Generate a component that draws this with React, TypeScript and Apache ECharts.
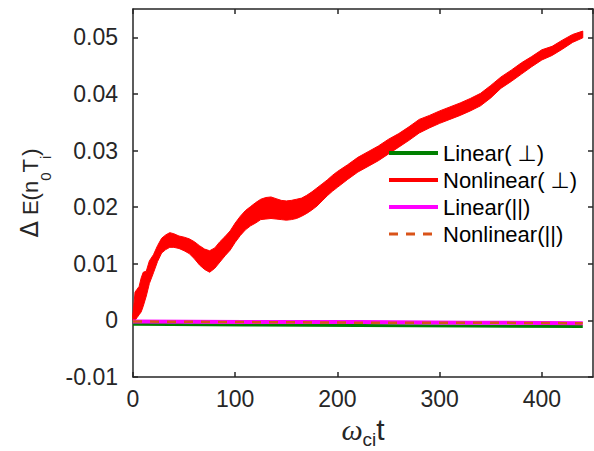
import React, { useEffect, useRef } from "react";
import * as echarts from "echarts";

const FONT = "'Liberation Sans', Arial, 'DejaVu Sans', sans-serif";
const AXIS_COLOR = "#262626";

const legendNames = ["Linear( ⊥)", "Nonlinear( ⊥)", "Linear(||)", "Nonlinear(||)"];
const xTicks = [0, 100, 200, 300, 400];

// Nonlinear perpendicular (red) - centre of noisy band
const tRed = [0, 2, 4, 6, 8, 10, 13, 16, 20, 24, 28, 32, 36, 40, 45, 50, 55, 60, 65, 70, 75, 80, 85, 90, 95, 100, 105, 110, 115, 120, 125, 130, 135, 140, 145, 150, 155, 160, 165, 170, 175, 180, 185, 190, 195, 200, 210, 220, 230, 240, 250, 260, 270, 280, 290, 300, 310, 320, 330, 340, 350, 360, 370, 380, 390, 400, 410, 420, 430, 440];
const redCenter = [0.0005, 0.0025, 0.003, 0.0035, 0.0045, 0.0055, 0.0065, 0.0085, 0.01, 0.0118, 0.0132, 0.0138, 0.0142, 0.0141, 0.0138, 0.0135, 0.0131, 0.0124, 0.0115, 0.0108, 0.0104, 0.011, 0.0121, 0.0131, 0.0141, 0.0155, 0.0167, 0.0177, 0.0184, 0.019, 0.0196, 0.0198, 0.0199, 0.0197, 0.0195, 0.0194, 0.0195, 0.0197, 0.02, 0.0205, 0.0211, 0.0218, 0.0226, 0.0234, 0.0242, 0.0249, 0.0262, 0.0275, 0.0285, 0.0295, 0.0307, 0.0318, 0.033, 0.0343, 0.0351, 0.0359, 0.0366, 0.0373, 0.0381, 0.039, 0.0404, 0.042, 0.0432, 0.0445, 0.0457, 0.0469, 0.0476, 0.0487, 0.0498, 0.0505];
// half thickness of the noisy band
const redHalf = [0.0005, 0.0025, 0.0025, 0.0025, 0.003, 0.003, 0.0022, 0.002, 0.0016, 0.0014, 0.0013, 0.0013, 0.0013, 0.0012, 0.0011, 0.0012, 0.0013, 0.0015, 0.0017, 0.0018, 0.0019, 0.0018, 0.0018, 0.0017, 0.0017, 0.0017, 0.0017, 0.0017, 0.0017, 0.0018, 0.0018, 0.0019, 0.0019, 0.0018, 0.0017, 0.0017, 0.0017, 0.0017, 0.0016, 0.0016, 0.0016, 0.0016, 0.0015, 0.0014, 0.0014, 0.0014, 0.0013, 0.0013, 0.0013, 0.0013, 0.0013, 0.0012, 0.0012, 0.0012, 0.0011, 0.0011, 0.0011, 0.0011, 0.0011, 0.0011, 0.0011, 0.001, 0.001, 0.001, 0.0009, 0.0009, 0.0008, 0.0008, 0.0007, 0.0006];

// flat lines
const tFlat = [0, 110, 220, 330, 440];
const linearPerp = [-0.0007, -0.0008, -0.0009, -0.001, -0.0011];
const linearPar = [-0.0002, -0.0003, -0.0003, -0.0004, -0.0005];
const nonlinearPar = [-0.0002, -0.0003, -0.0004, -0.0004, -0.0005];

const pairs = (xs: number[], ys: number[]) => xs.map((x, i) => [x, ys[i]]);

export default function App() {
  const ref = useRef<HTMLDivElement>(null);
  useEffect(() => {
    if (!ref.current) return;
    const chart = echarts.init(ref.current, null, { renderer: "svg" });
    const axisLine = { show: true, onZero: false, lineStyle: { color: AXIS_COLOR, width: 1.5 } };
    const axisTick = { show: true, inside: true, length: 5, lineStyle: { color: AXIS_COLOR, width: 1.5 } };
    chart.setOption({
      animation: false,
      grid: { left: 133, right: 1, top: 9, bottom: 74, containLabel: false, outerBoundsMode: "none" },
      xAxis: [
        {
          type: "value", min: 0, max: 450, interval: 100,
          axisLine, axisTick, splitLine: { show: false },
          axisLabel: { margin: 10, fontSize: 23, color: AXIS_COLOR, fontFamily: FONT, showMaxLabel: false,
            formatter: (v: number) => (xTicks.includes(v) ? String(v) : "") },
          name: "{w|ω}{sub|ci}{t|t}",
          nameLocation: "middle", nameGap: 30,
          nameTextStyle: {
            rich: {
              w: { fontFamily: "'Liberation Serif', serif", fontStyle: "italic", fontSize: 30, lineHeight: 38, color: AXIS_COLOR },
              sub: { fontFamily: FONT, fontSize: 19, lineHeight: 17, verticalAlign: "bottom", color: AXIS_COLOR },
              t: { fontFamily: FONT, fontSize: 30, lineHeight: 38, color: AXIS_COLOR },
            },
          },
        },
        {
          type: "value", position: "top", min: 0, max: 450, interval: 100,
          axisLine, axisTick, splitLine: { show: false }, axisLabel: { show: false },
        },
      ],
      yAxis: [
        {
          type: "value", min: -0.01, max: 0.055, interval: 0.01,
          axisLine, axisTick, splitLine: { show: false },
          axisLabel: { margin: 15, fontSize: 23, color: AXIS_COLOR, fontFamily: FONT, showMaxLabel: false,
            formatter: (v: number) => String(Math.round(v * 100) / 100) },
          name: "{D|Δ}{d| E(n}{sub|0}{d|T}{sub|i}{d|)}",
          nameLocation: "middle", nameGap: 80, nameRotate: 90,
          nameTextStyle: {
            rich: {
              D: { fontFamily: "'DejaVu Sans', sans-serif", fontSize: 24, lineHeight: 46, color: AXIS_COLOR },
              d: { fontFamily: FONT, fontSize: 22, lineHeight: 46, color: AXIS_COLOR },
              sub: { fontFamily: FONT, fontSize: 15, lineHeight: 15, verticalAlign: "bottom", color: AXIS_COLOR },
            },
          },
        },
        {
          type: "value", position: "right", min: -0.01, max: 0.055, interval: 0.01,
          axisLine, axisTick, splitLine: { show: false }, axisLabel: { show: false },
        },
      ],
      legend: {
        orient: "vertical", left: 387, top: 142, padding: 0, itemGap: 5,
        itemWidth: 49, itemHeight: 14,
        itemStyle: { opacity: 0, color: "rgba(0,0,0,0)", borderWidth: 0 },
        textStyle: { fontFamily: FONT, fontSize: 22, lineHeight: 21.5, color: "#000" },
        data: [
          { name: legendNames[0], lineStyle: { width: 4 } },
          { name: legendNames[1], lineStyle: { width: 4 } },
          { name: legendNames[2], lineStyle: { width: 4 } },
          { name: legendNames[3], lineStyle: { width: 3 } },
        ],
      },
      series: [
        {
          type: "custom", name: "band", data: [0], silent: true,
          renderItem: (_params: any, api: any) => {
            const upper = tRed.map((t, i) => api.coord([t, redCenter[i] + redHalf[i]]));
            const lower = tRed.map((t, i) => api.coord([t, redCenter[i] - redHalf[i]])).reverse();
            return {
              type: "polygon",
              shape: { points: upper.concat(lower) },
              style: { fill: "#ff0000", stroke: "#ff0000", lineWidth: 1 },
            };
          },
        },
        {
          type: "line", name: legendNames[1], data: pairs(tRed, redCenter), symbol: "none",
          lineStyle: { color: "#ff0000", width: 2 }, itemStyle: { color: "#ff0000" },
        },
        {
          type: "line", name: legendNames[0], data: pairs(tFlat, linearPerp), symbol: "none",
          lineStyle: { color: "#008000", width: 3 }, itemStyle: { color: "#008000" },
        },
        {
          type: "line", name: legendNames[2], data: pairs(tFlat, linearPar), symbol: "none",
          lineStyle: { color: "#ff00ff", width: 4 }, itemStyle: { color: "#ff00ff" },
        },
        {
          type: "line", name: legendNames[3], data: pairs(tFlat, nonlinearPar), symbol: "none",
          lineStyle: { color: "#d95319", width: 2.5, type: [9, 8] }, itemStyle: { color: "#d95319" },
        },
      ],
    });
    return () => chart.dispose();
  }, []);
  return <div ref={ref} style={{ width: 594, height: 451, position: "absolute", left: 0, top: 0 }} />;
}
